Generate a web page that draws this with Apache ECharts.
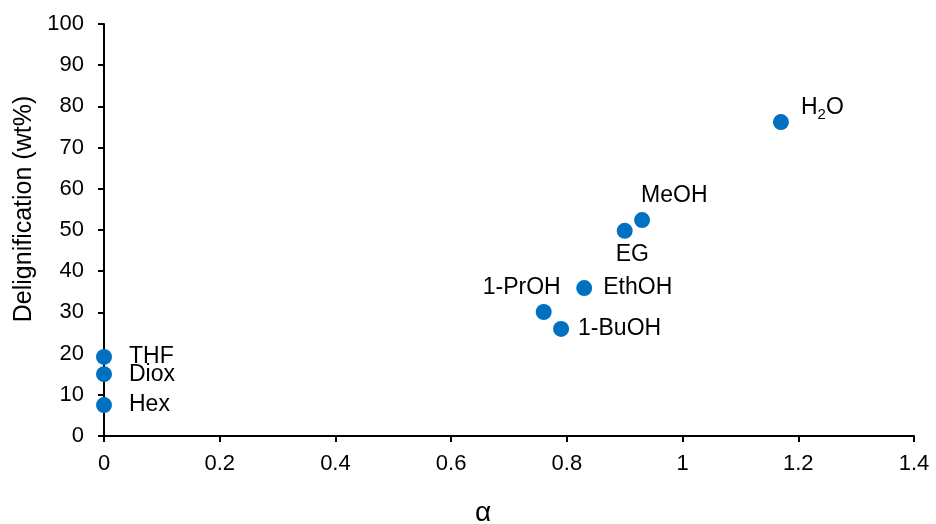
<!doctype html>
<html lang="en">
<head>
    <meta charset="UTF-8">
    <title>Delignification vs alpha</title>
    <script src="https://cdn.jsdelivr.net/npm/echarts@6/dist/echarts.min.js"></script>
    <style>
        html, body { margin: 0; padding: 0; background: #fff; }
        #chart { width: 936px; height: 524px; }
    </style>
</head>
<body>
<div id="chart"></div>
<script type="text/javascript">
    // data
    var solvents = ['H2O', 'MeOH', 'EG', 'EthOH', '1-PrOH', '1-BuOH', 'THF', 'Diox', 'Hex'];
    var alpha = [1.17, 0.93, 0.90, 0.83, 0.76, 0.79, 0, 0, 0];
    var delig = [76.2, 52.4, 49.8, 35.9, 30.1, 26.0, 19.2, 15.0, 7.5];

    // where each label sits next to its dot
    var labelPlace = {
        'H2O': { side: 'right', off: [12, -14] },
        'MeOH': { side: 'right', off: [-9, -24] },
        'EG': { side: 'right', off: [-17, 24] },
        'EthOH': { side: 'right', off: [11, 0] },
        '1-PrOH': { side: 'left', off: [25, -24] },
        '1-BuOH': { side: 'right', off: [9, 0] },
        'THF': { side: 'right', off: [17, 0] },
        'Diox': { side: 'right', off: [17, 0] },
        'Hex': { side: 'right', off: [17, 0] }
    };

    var font = 'Liberation Sans, Arial, sans-serif';
    var points = solvents.map(function (name, i) {
        var p = labelPlace[name];
        return {
            name: name,
            value: [alpha[i], delig[i]],
            label: { position: p.side, distance: 0, offset: p.off }
        };
    });

    var myChart = echarts.init(document.getElementById('chart'));
    var option = {
        animation: false,
        grid: { left: 104, right: 22, top: 24, bottom: 88, outerBoundsMode: 'none', containLabel: false },
        xAxis: {
            type: 'value', min: 0, max: 1.4, interval: 0.2,
            name: 'α', nameLocation: 'middle', nameGap: 63,
            nameTextStyle: { fontFamily: font, fontSize: 28, color: '#000', padding: [0, 52, 0, 0] },
            splitLine: { show: false },
            axisLine: { onZero: false, lineStyle: { color: '#000', width: 2 } },
            axisTick: { length: 6, lineStyle: { color: '#000', width: 2 } },
            axisLabel: { fontFamily: font, fontSize: 22, color: '#000', margin: 17 }
        },
        yAxis: {
            type: 'value', min: 0, max: 100, interval: 10,
            name: 'Delignification (wt%)', nameLocation: 'middle', nameGap: 66,
            nameTextStyle: { fontFamily: font, fontSize: 25, color: '#000', padding: [0, 0, 0, 42] },
            splitLine: { show: false },
            axisLine: { show: true, lineStyle: { color: '#000', width: 2 } },
            axisTick: { show: true, length: 6, lineStyle: { color: '#000', width: 2 } },
            axisLabel: { fontFamily: font, fontSize: 22, color: '#000', margin: 20 }
        },
        series: [{
            type: 'scatter',
            symbolSize: 16,
            itemStyle: { color: '#0070C0', opacity: 1 },
            data: points,
            label: {
                show: true,
                fontFamily: font, fontSize: 23, color: '#000',
                formatter: function (p) {
                    if (p.name === 'H2O') return '{a|H}{s|2}{a|O}';
                    return '{a|' + p.name + '}';
                },
                rich: {
                    a: { fontFamily: font, fontSize: 23, color: '#000' },
                    s: { fontFamily: font, fontSize: 15, color: '#000', verticalAlign: 'bottom', padding: [14, 0, 0, 0] }
                }
            }
        }]
    };
    myChart.setOption(option);
</script>
</body>
</html>
